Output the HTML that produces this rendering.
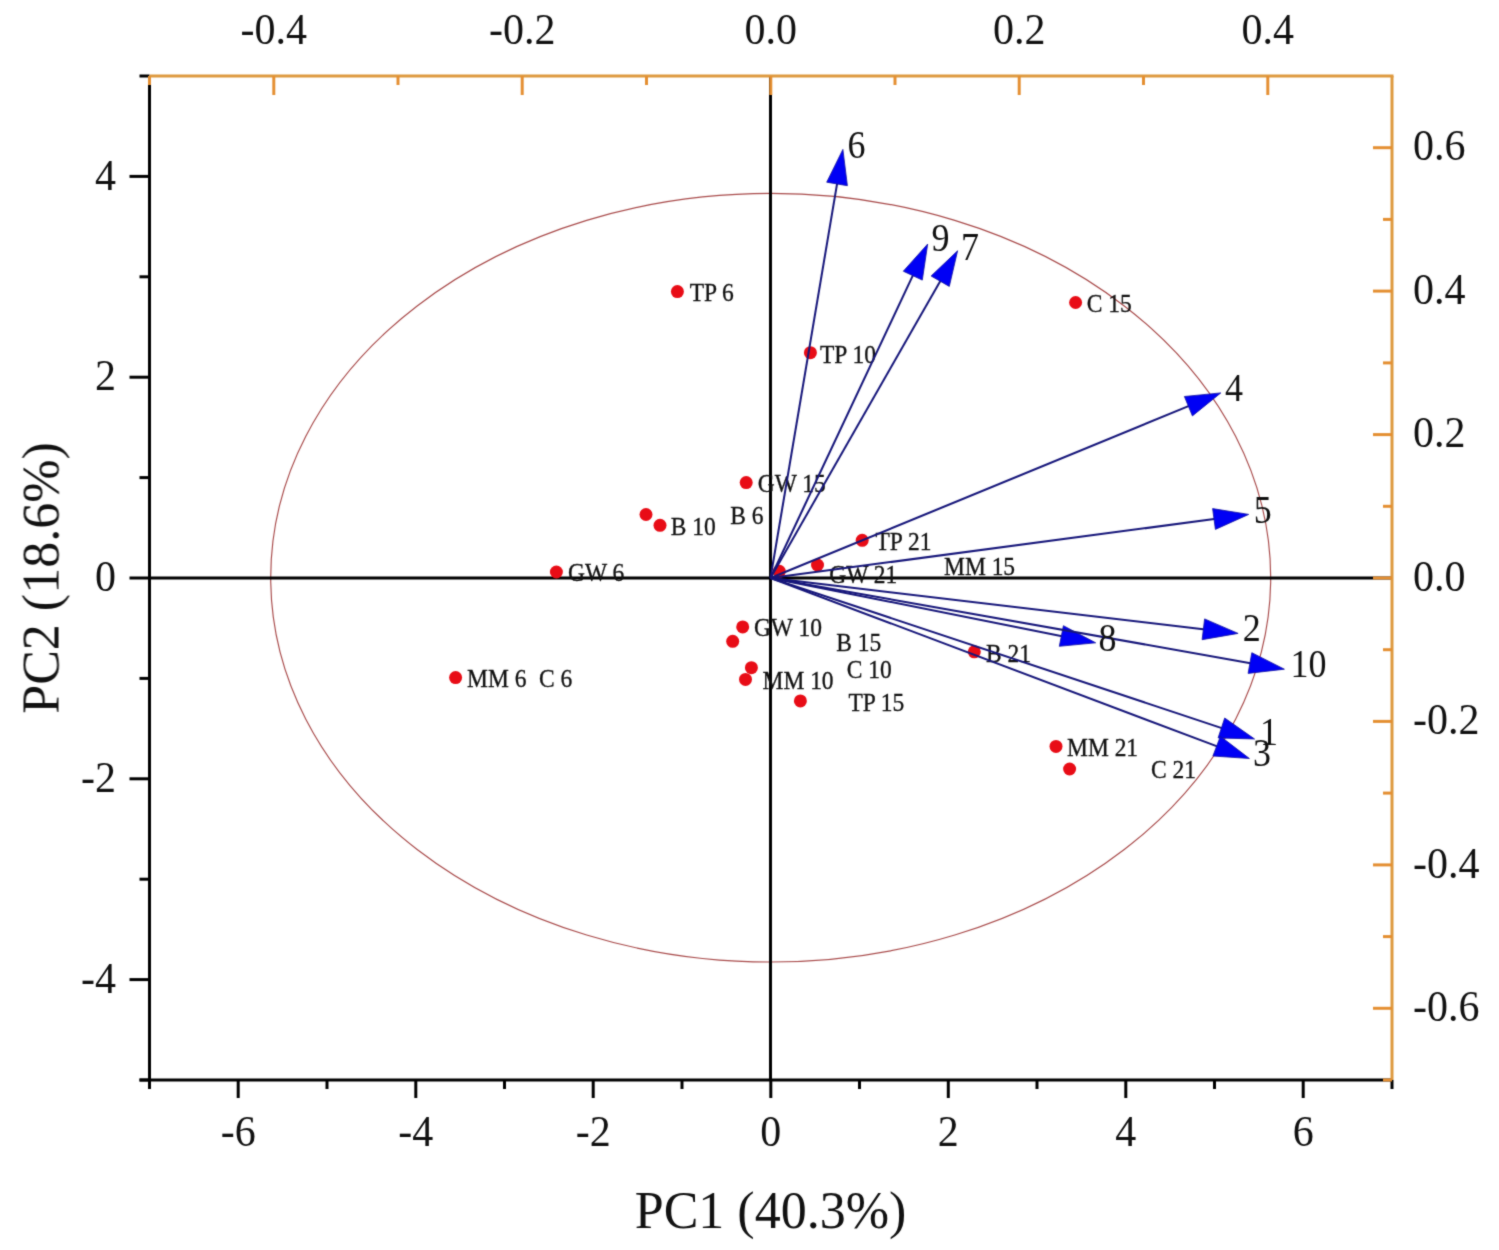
<!DOCTYPE html>
<html><head><meta charset="utf-8"><style>
html,body{margin:0;padding:0;background:#fff;width:1499px;height:1250px;overflow:hidden}
svg{display:block}
text{font-family:"Liberation Serif",serif}
</style></head><body>
<svg width="1499" height="1250" viewBox="0 0 1499 1250">
<defs><filter id="bl" filterUnits="userSpaceOnUse" x="0" y="0" width="1499" height="1250" color-interpolation-filters="sRGB"><feConvolveMatrix order="3" kernelMatrix="0.03 0.09 0.03 0.09 0.52 0.09 0.03 0.09 0.03" edgeMode="duplicate"/></filter></defs>
<rect width="100%" height="100%" fill="#fff"/>
<g filter="url(#bl)">
<ellipse cx="770.7" cy="577.7" rx="500" ry="384.3" fill="none" stroke="#a84a4a" stroke-width="1.15"/>
<line x1="149.5" y1="578" x2="1392" y2="578" stroke="#000" stroke-width="3"/>
<line x1="770.5" y1="76" x2="770.5" y2="1080" stroke="#000" stroke-width="3"/>
<circle cx="677.4" cy="291.6" r="6.5" fill="#e80c16"/>
<circle cx="810.4" cy="352.7" r="6.5" fill="#e80c16"/>
<circle cx="1075.6" cy="302.5" r="6.5" fill="#e80c16"/>
<circle cx="746.2" cy="482.6" r="6.5" fill="#e80c16"/>
<circle cx="646" cy="514.5" r="6.5" fill="#e80c16"/>
<circle cx="660" cy="525.3" r="6.5" fill="#e80c16"/>
<circle cx="862.2" cy="540.3" r="6.5" fill="#e80c16"/>
<circle cx="817.5" cy="565" r="6.5" fill="#e80c16"/>
<circle cx="779.3" cy="571.3" r="6.5" fill="#e80c16"/>
<circle cx="556.4" cy="572" r="6.5" fill="#e80c16"/>
<circle cx="742.7" cy="626.9" r="6.5" fill="#e80c16"/>
<circle cx="732.7" cy="641.3" r="6.5" fill="#e80c16"/>
<circle cx="751.4" cy="667.7" r="6.5" fill="#e80c16"/>
<circle cx="745.5" cy="679.4" r="6.5" fill="#e80c16"/>
<circle cx="800.4" cy="700.9" r="6.5" fill="#e80c16"/>
<circle cx="974.3" cy="651.8" r="6.5" fill="#e80c16"/>
<circle cx="455.6" cy="677.6" r="6.5" fill="#e80c16"/>
<circle cx="1056" cy="746.4" r="6.5" fill="#e80c16"/>
<circle cx="1069.6" cy="769" r="6.5" fill="#e80c16"/>
<g class="pl" font-family="Liberation Serif" font-size="23.5" fill="#111" stroke="#111" stroke-width="0.3">
<text transform="translate(689.7,301.0) scale(1,1.08)">TP 6</text>
<text transform="translate(820.0,362.5) scale(1,1.08)">TP 10</text>
<text transform="translate(1086.8,311.9) scale(1,1.08)">C 15</text>
<text transform="translate(757.7,491.8) scale(1,1.08)">GW 15</text>
<text transform="translate(730.2,523.8) scale(1,1.08)">B 6</text>
<text transform="translate(670.7,534.8) scale(1,1.08)">B 10</text>
<text transform="translate(875.5,550.2) scale(1,1.08)">TP 21</text>
<text transform="translate(829.3,583.2) scale(1,1.08)">GW 21</text>
<text transform="translate(944.0,575.0) scale(1,1.08)">MM 15</text>
<text transform="translate(568.0,581.0) scale(1,1.08)">GW 6</text>
<text transform="translate(753.9,636.2) scale(1,1.08)">GW 10</text>
<text transform="translate(836.3,650.9) scale(1,1.08)">B 15</text>
<text transform="translate(986.0,661.9) scale(1,1.08)">B 21</text>
<text transform="translate(846.8,677.7) scale(1,1.08)">C 10</text>
<text transform="translate(762.5,688.7) scale(1,1.08)">MM 10</text>
<text transform="translate(467.0,687.0) scale(1,1.08)">MM 6</text>
<text transform="translate(539.0,687.0) scale(1,1.08)">C 6</text>
<text transform="translate(848.4,710.9) scale(1,1.08)">TP 15</text>
<text transform="translate(1067.0,756.0) scale(1,1.08)">MM 21</text>
<text transform="translate(1151.0,778.0) scale(1,1.08)">C 21</text>
</g>
<line x1="770.5" y1="578" x2="837.4" y2="181.9" stroke="#16167a" stroke-width="2"/>
<polygon points="842.9,149.4 847.4,185.7 826.7,182.2" fill="#0000f5" stroke="#1010a0" stroke-width="0.8" stroke-linejoin="round"/>
<line x1="770.5" y1="578" x2="913.6" y2="273.9" stroke="#16167a" stroke-width="2"/>
<polygon points="927.7,244.0 922.3,280.1 903.3,271.2" fill="#0000f5" stroke="#1010a0" stroke-width="0.8" stroke-linejoin="round"/>
<line x1="770.5" y1="578" x2="941.2" y2="279.4" stroke="#16167a" stroke-width="2"/>
<polygon points="957.6,250.8 949.3,286.4 931.1,276.0" fill="#0000f5" stroke="#1010a0" stroke-width="0.8" stroke-linejoin="round"/>
<line x1="770.5" y1="578" x2="1190.3" y2="405.4" stroke="#16167a" stroke-width="2"/>
<polygon points="1220.8,392.9 1192.4,415.9 1184.4,396.5" fill="#0000f5" stroke="#1010a0" stroke-width="0.8" stroke-linejoin="round"/>
<line x1="770.5" y1="578" x2="1216.0" y2="518.8" stroke="#16167a" stroke-width="2"/>
<polygon points="1248.7,514.4 1215.4,529.4 1212.6,508.6" fill="#0000f5" stroke="#1010a0" stroke-width="0.8" stroke-linejoin="round"/>
<line x1="770.5" y1="578" x2="1205.3" y2="629.5" stroke="#16167a" stroke-width="2"/>
<polygon points="1238.1,633.4 1202.1,639.7 1204.6,618.9" fill="#0000f5" stroke="#1010a0" stroke-width="0.8" stroke-linejoin="round"/>
<line x1="770.5" y1="578" x2="1063.3" y2="636.4" stroke="#16167a" stroke-width="2"/>
<polygon points="1095.7,642.8 1059.3,646.3 1063.4,625.7" fill="#0000f5" stroke="#1010a0" stroke-width="0.8" stroke-linejoin="round"/>
<line x1="770.5" y1="578" x2="1251.9" y2="663.4" stroke="#16167a" stroke-width="2"/>
<polygon points="1284.4,669.2 1248.1,673.4 1251.8,652.7" fill="#0000f5" stroke="#1010a0" stroke-width="0.8" stroke-linejoin="round"/>
<line x1="770.5" y1="578" x2="1223.3" y2="728.6" stroke="#16167a" stroke-width="2"/>
<polygon points="1254.6,739.0 1218.1,737.9 1224.7,718.0" fill="#0000f5" stroke="#1010a0" stroke-width="0.8" stroke-linejoin="round"/>
<line x1="770.5" y1="578" x2="1218.5" y2="746.9" stroke="#16167a" stroke-width="2"/>
<polygon points="1249.4,758.5 1212.9,756.0 1220.4,736.3" fill="#0000f5" stroke="#1010a0" stroke-width="0.8" stroke-linejoin="round"/>
<g class="al" font-family="Liberation Serif" font-size="36" fill="#111">
<text transform="translate(847.5,158.4) scale(1,1.1)">6</text>
<text transform="translate(931.6,250.8) scale(1,1.1)">9</text>
<text transform="translate(961.0,260.0) scale(1,1.1)">7</text>
<text transform="translate(1225.0,400.6) scale(1,1.1)">4</text>
<text transform="translate(1253.7,522.7) scale(1,1.1)">5</text>
<text transform="translate(1242.8,641.2) scale(1,1.1)">2</text>
<text transform="translate(1098.4,651.0) scale(1,1.1)">8</text>
<text transform="translate(1290.5,676.6) scale(1,1.1)">10</text>
<text transform="translate(1260.0,745.2) scale(1,1.1)">1</text>
<text transform="translate(1253.0,766.2) scale(1,1.1)">3</text>
</g>
<line x1="139.5" y1="1080" x2="1392" y2="1080" stroke="#000" stroke-width="3"/>
<line x1="149.5" y1="76" x2="149.5" y2="1088" stroke="#000" stroke-width="3"/>
<line x1="149.5" y1="1080" x2="149.5" y2="1089" stroke="#000" stroke-width="3"/>
<line x1="238.2" y1="1080" x2="238.2" y2="1098" stroke="#000" stroke-width="3"/>
<line x1="327.0" y1="1080" x2="327.0" y2="1089" stroke="#000" stroke-width="3"/>
<line x1="415.8" y1="1080" x2="415.8" y2="1098" stroke="#000" stroke-width="3"/>
<line x1="504.5" y1="1080" x2="504.5" y2="1089" stroke="#000" stroke-width="3"/>
<line x1="593.2" y1="1080" x2="593.2" y2="1098" stroke="#000" stroke-width="3"/>
<line x1="682.0" y1="1080" x2="682.0" y2="1089" stroke="#000" stroke-width="3"/>
<line x1="770.8" y1="1080" x2="770.8" y2="1098" stroke="#000" stroke-width="3"/>
<line x1="859.5" y1="1080" x2="859.5" y2="1089" stroke="#000" stroke-width="3"/>
<line x1="948.3" y1="1080" x2="948.3" y2="1098" stroke="#000" stroke-width="3"/>
<line x1="1037.0" y1="1080" x2="1037.0" y2="1089" stroke="#000" stroke-width="3"/>
<line x1="1125.8" y1="1080" x2="1125.8" y2="1098" stroke="#000" stroke-width="3"/>
<line x1="1214.5" y1="1080" x2="1214.5" y2="1089" stroke="#000" stroke-width="3"/>
<line x1="1303.2" y1="1080" x2="1303.2" y2="1098" stroke="#000" stroke-width="3"/>
<line x1="1392.0" y1="1080" x2="1392.0" y2="1089" stroke="#000" stroke-width="3"/>
<text transform="translate(238.2,1145.5) scale(1,1.05)" font-family="Liberation Serif" font-size="42" text-anchor="middle" fill="#111">-6</text>
<text transform="translate(415.8,1145.5) scale(1,1.05)" font-family="Liberation Serif" font-size="42" text-anchor="middle" fill="#111">-4</text>
<text transform="translate(593.2,1145.5) scale(1,1.05)" font-family="Liberation Serif" font-size="42" text-anchor="middle" fill="#111">-2</text>
<text transform="translate(770.8,1145.5) scale(1,1.05)" font-family="Liberation Serif" font-size="42" text-anchor="middle" fill="#111">0</text>
<text transform="translate(948.3,1145.5) scale(1,1.05)" font-family="Liberation Serif" font-size="42" text-anchor="middle" fill="#111">2</text>
<text transform="translate(1125.8,1145.5) scale(1,1.05)" font-family="Liberation Serif" font-size="42" text-anchor="middle" fill="#111">4</text>
<text transform="translate(1303.2,1145.5) scale(1,1.05)" font-family="Liberation Serif" font-size="42" text-anchor="middle" fill="#111">6</text>
<line x1="139.5" y1="1080.0" x2="149.5" y2="1080.0" stroke="#000" stroke-width="3"/>
<line x1="129.5" y1="979.6" x2="149.5" y2="979.6" stroke="#000" stroke-width="3"/>
<line x1="139.5" y1="879.2" x2="149.5" y2="879.2" stroke="#000" stroke-width="3"/>
<line x1="129.5" y1="778.8" x2="149.5" y2="778.8" stroke="#000" stroke-width="3"/>
<line x1="139.5" y1="678.4" x2="149.5" y2="678.4" stroke="#000" stroke-width="3"/>
<line x1="129.5" y1="578.0" x2="149.5" y2="578.0" stroke="#000" stroke-width="3"/>
<line x1="139.5" y1="477.6" x2="149.5" y2="477.6" stroke="#000" stroke-width="3"/>
<line x1="129.5" y1="377.2" x2="149.5" y2="377.2" stroke="#000" stroke-width="3"/>
<line x1="139.5" y1="276.8" x2="149.5" y2="276.8" stroke="#000" stroke-width="3"/>
<line x1="129.5" y1="176.4" x2="149.5" y2="176.4" stroke="#000" stroke-width="3"/>
<line x1="139.5" y1="76.0" x2="149.5" y2="76.0" stroke="#000" stroke-width="3"/>
<text transform="translate(116,992.8) scale(1,1.05)" font-family="Liberation Serif" font-size="42" text-anchor="end" fill="#111">-4</text>
<text transform="translate(116,792.0) scale(1,1.05)" font-family="Liberation Serif" font-size="42" text-anchor="end" fill="#111">-2</text>
<text transform="translate(116,591.2) scale(1,1.05)" font-family="Liberation Serif" font-size="42" text-anchor="end" fill="#111">0</text>
<text transform="translate(116,390.4) scale(1,1.05)" font-family="Liberation Serif" font-size="42" text-anchor="end" fill="#111">2</text>
<text transform="translate(116,189.6) scale(1,1.05)" font-family="Liberation Serif" font-size="42" text-anchor="end" fill="#111">4</text>
<line x1="149.5" y1="76" x2="1393.5" y2="76" stroke="#de993f" stroke-width="3"/>
<line x1="1392" y1="76" x2="1392" y2="1080" stroke="#de993f" stroke-width="3"/>
<line x1="149.5" y1="76" x2="149.5" y2="85" stroke="#e48f32" stroke-width="3"/>
<line x1="273.8" y1="76" x2="273.8" y2="95" stroke="#e48f32" stroke-width="3"/>
<line x1="398.0" y1="76" x2="398.0" y2="85" stroke="#e48f32" stroke-width="3"/>
<line x1="522.2" y1="76" x2="522.2" y2="95" stroke="#e48f32" stroke-width="3"/>
<line x1="646.5" y1="76" x2="646.5" y2="85" stroke="#e48f32" stroke-width="3"/>
<line x1="770.8" y1="76" x2="770.8" y2="95" stroke="#e48f32" stroke-width="3"/>
<line x1="895.0" y1="76" x2="895.0" y2="85" stroke="#e48f32" stroke-width="3"/>
<line x1="1019.2" y1="76" x2="1019.2" y2="95" stroke="#e48f32" stroke-width="3"/>
<line x1="1143.5" y1="76" x2="1143.5" y2="85" stroke="#e48f32" stroke-width="3"/>
<line x1="1267.8" y1="76" x2="1267.8" y2="95" stroke="#e48f32" stroke-width="3"/>
<text transform="translate(273.8,44.3) scale(1,1.05)" font-family="Liberation Serif" font-size="42" text-anchor="middle" fill="#111">-0.4</text>
<text transform="translate(522.2,44.3) scale(1,1.05)" font-family="Liberation Serif" font-size="42" text-anchor="middle" fill="#111">-0.2</text>
<text transform="translate(770.8,44.3) scale(1,1.05)" font-family="Liberation Serif" font-size="42" text-anchor="middle" fill="#111">0.0</text>
<text transform="translate(1019.2,44.3) scale(1,1.05)" font-family="Liberation Serif" font-size="42" text-anchor="middle" fill="#111">0.2</text>
<text transform="translate(1267.8,44.3) scale(1,1.05)" font-family="Liberation Serif" font-size="42" text-anchor="middle" fill="#111">0.4</text>
<line x1="1383" y1="1080.0" x2="1392" y2="1080.0" stroke="#e48f32" stroke-width="3"/>
<line x1="1373" y1="1008.3" x2="1392" y2="1008.3" stroke="#e48f32" stroke-width="3"/>
<line x1="1383" y1="936.6" x2="1392" y2="936.6" stroke="#e48f32" stroke-width="3"/>
<line x1="1373" y1="864.9" x2="1392" y2="864.9" stroke="#e48f32" stroke-width="3"/>
<line x1="1383" y1="793.1" x2="1392" y2="793.1" stroke="#e48f32" stroke-width="3"/>
<line x1="1373" y1="721.4" x2="1392" y2="721.4" stroke="#e48f32" stroke-width="3"/>
<line x1="1383" y1="649.7" x2="1392" y2="649.7" stroke="#e48f32" stroke-width="3"/>
<line x1="1373" y1="578.0" x2="1392" y2="578.0" stroke="#e48f32" stroke-width="3"/>
<line x1="1383" y1="506.3" x2="1392" y2="506.3" stroke="#e48f32" stroke-width="3"/>
<line x1="1373" y1="434.6" x2="1392" y2="434.6" stroke="#e48f32" stroke-width="3"/>
<line x1="1383" y1="362.9" x2="1392" y2="362.9" stroke="#e48f32" stroke-width="3"/>
<line x1="1373" y1="291.1" x2="1392" y2="291.1" stroke="#e48f32" stroke-width="3"/>
<line x1="1383" y1="219.4" x2="1392" y2="219.4" stroke="#e48f32" stroke-width="3"/>
<line x1="1373" y1="147.7" x2="1392" y2="147.7" stroke="#e48f32" stroke-width="3"/>
<text transform="translate(1413,1020.9) scale(1,1.05)" font-family="Liberation Serif" font-size="42" fill="#111">-0.6</text>
<text transform="translate(1413,877.5) scale(1,1.05)" font-family="Liberation Serif" font-size="42" fill="#111">-0.4</text>
<text transform="translate(1413,734.0) scale(1,1.05)" font-family="Liberation Serif" font-size="42" fill="#111">-0.2</text>
<text transform="translate(1413,590.6) scale(1,1.05)" font-family="Liberation Serif" font-size="42" fill="#111">0.0</text>
<text transform="translate(1413,447.2) scale(1,1.05)" font-family="Liberation Serif" font-size="42" fill="#111">0.2</text>
<text transform="translate(1413,303.7) scale(1,1.05)" font-family="Liberation Serif" font-size="42" fill="#111">0.4</text>
<text transform="translate(1413,160.3) scale(1,1.05)" font-family="Liberation Serif" font-size="42" fill="#111">0.6</text>
<text x="770.5" y="1228" font-family="Liberation Serif" font-size="52" text-anchor="middle" fill="#111">PC1 (40.3%)</text>
<text transform="translate(58.5,578) rotate(-90)" x="0" y="0" font-family="Liberation Serif" font-size="52" text-anchor="middle" fill="#111">PC2 (18.6%)</text>
</g>
</svg>
</body></html>
